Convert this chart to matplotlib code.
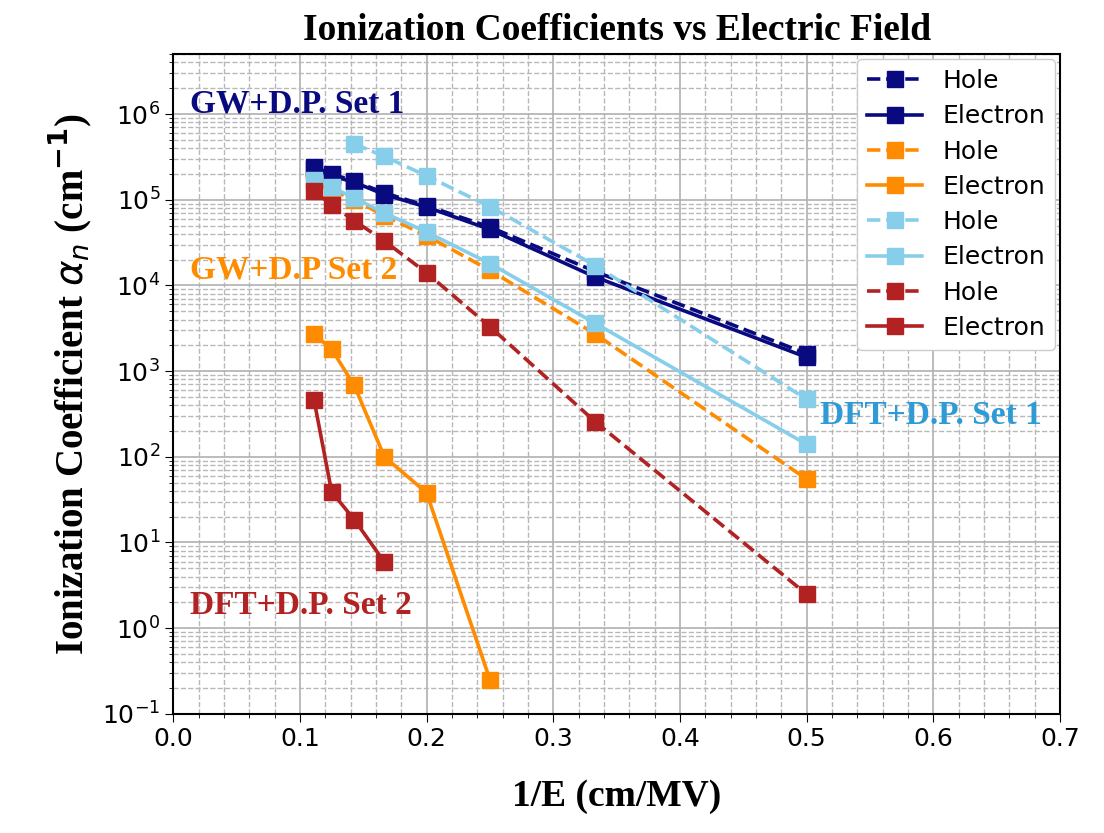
import matplotlib.pyplot as plt
import numpy as np

# 1/E values (cm/MV), E = 9..2 MV/cm
inv_E = [1/9, 1/8, 1/7, 1/6, 1/5, 1/4, 1/3, 1/2]

# GW+D.P. Set 1
gw1_hole = [2.4e5, 2.0e5, 1.65e5, 1.2e5, 8.5e4, 4.8e4, 1.45e4, 1.6e3]
gw1_elec = [2.3e5, 1.9e5, 1.6e5, 1.15e5, 8.2e4, 4.5e4, 1.25e4, 1.45e3]
# GW+D.P Set 2
gw2_hole = [1.6e5, 1.3e5, 1.0e5, 6.5e4, 3.8e4, 1.5e4, 2.7e3, 55]
gw2_elec = [2.7e3, 1.8e3, 680, 100, 38, 0.25]
# DFT+D.P. Set 1
dft1_hole_x = [1/7, 1/6, 1/5, 1/4, 1/3, 1/2]
dft1_hole = [4.5e5, 3.2e5, 1.9e5, 8.3e4, 1.7e4, 470]
dft1_elec = [1.7e5, 1.4e5, 1.05e5, 7.0e4, 4.2e4, 1.8e4, 3.6e3, 140]
# DFT+D.P. Set 2
dft2_hole = [1.25e5, 8.7e4, 5.7e4, 3.3e4, 1.4e4, 3.3e3, 255, 2.5]
dft2_elec = [460, 39, 18.5, 5.9]

navy = '#0a0a80'
orange = '#ff8c00'
sky = '#87ceeb'
red = '#b22222'

fig = plt.figure(figsize=(11.04, 8.33), dpi=100)
ax = fig.add_axes([0.157, 0.143, 0.803, 0.792])

kw = dict(marker='s', markersize=11, linewidth=2.6)
ax.plot(inv_E, gw1_hole, '--', color=navy, label='Hole', **kw)
ax.plot(inv_E, gw1_elec, '-', color=navy, label='Electron', **kw)
ax.plot(inv_E, gw2_hole, '--', color=orange, label='Hole', **kw)
ax.plot(inv_E[:6], gw2_elec, '-', color=orange, label='Electron', **kw)
ax.plot(dft1_hole_x, dft1_hole, '--', color=sky, label='Hole', **kw)
ax.plot(inv_E, dft1_elec, '-', color=sky, label='Electron', **kw)
ax.plot(inv_E, dft2_hole, '--', color=red, label='Hole', **kw)
ax.plot(inv_E[:4], dft2_elec, '-', color=red, label='Electron', **kw)

ax.set_yscale('log')
ax.set_xlim(0, 0.7)
ax.set_ylim(0.1, 5e6)
ax.set_xticks(np.arange(0, 0.71, 0.1))
ax.set_xticks(np.arange(0, 0.71, 0.02), minor=True)
ax.grid(True, which='major', color='#b0b0b0', linestyle='-', linewidth=1.2)
ax.grid(True, which='minor', color='#b8b8b8', linestyle='--', linewidth=1.0)
ax.tick_params(axis='both', which='major', labelsize=18, length=6)
ax.tick_params(axis='both', which='minor', length=3)
for s in ax.spines.values():
    s.set_linewidth(1.5)

serif = 'Liberation Serif'
ax.set_title('Ionization Coefficients vs Electric Field', fontsize=27,
             fontweight='bold', family=serif, pad=10)
ax.set_xlabel('1/E (cm/MV)', fontsize=27, fontweight='bold', family=serif,
              labelpad=20)
ax.set_ylabel(r'Ionization Coefficient $\boldsymbol{\alpha_n}$ (cm$^{\mathbf{-1}}$)',
              fontsize=28, fontweight='bold', family=serif, labelpad=6)

ax.text(0.013, 1.3e6, 'GW+D.P. Set 1', color=navy, fontsize=24,
        fontweight='bold', family=serif, va='center')
ax.text(0.013, 1.5e4, 'GW+D.P Set 2', color=orange, fontsize=24,
        fontweight='bold', family=serif, va='center')
ax.text(0.511, 300, 'DFT+D.P. Set 1', color='#2e9bd6', fontsize=24,
        fontweight='bold', family=serif, va='center')
ax.text(0.013, 1.85, 'DFT+D.P. Set 2', color=red, fontsize=24,
        fontweight='bold', family=serif, va='center')

ax.legend(loc='upper right', fontsize=18, handlelength=2.2, borderpad=0.4,
          labelspacing=0.45, framealpha=1.0, borderaxespad=0.2)

fig.savefig('out.png', dpi=100)
